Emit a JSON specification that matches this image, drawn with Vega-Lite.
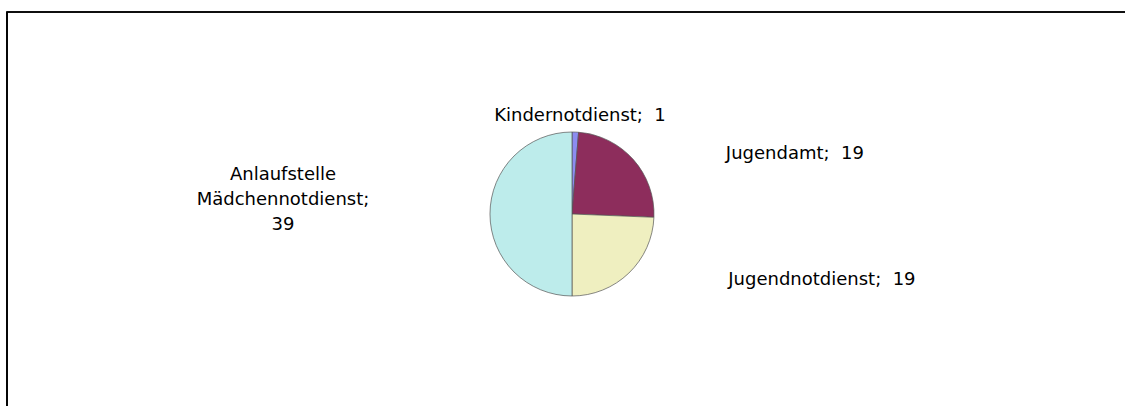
{
  "$schema": "https://vega.github.io/schema/vega-lite/v6.json",
  "autosize": {"type": "none"},
  "width": 1130,
  "height": 404,
  "padding": {"left": 7, "top": 12, "right": -12, "bottom": -10},
  "background": "#ffffff",
  "config": {
    "view": {"stroke": null},
    "font": "DejaVu Sans"
  },
  "data": {
    "values": [
      {"Stelle": "Kindernotdienst", "Anzahl": 1, "Reihenfolge": 1, "Label": "Kindernotdienst;\u00a0 1"},
      {"Stelle": "Jugendamt", "Anzahl": 19, "Reihenfolge": 2, "Label": "Jugendamt;\u00a0 19"},
      {"Stelle": "Jugendnotdienst", "Anzahl": 19, "Reihenfolge": 3, "Label": "Jugendnotdienst;\u00a0 19"},
      {"Stelle": "Anlaufstelle Mädchennotdienst", "Anzahl": 39, "Reihenfolge": 4, "Label": "Anlaufstelle|Mädchennotdienst;|39"}
    ]
  },
  "layer": [
    {
      "mark": {"type": "rect", "fill": null, "stroke": "#000000", "strokeWidth": 1.2},
      "encoding": {}
    },
    {
      "mark": {"type": "arc", "outerRadius": 82, "stroke": "#555555", "strokeWidth": 0.7},
      "encoding": {
        "theta": {"field": "Anzahl", "type": "quantitative", "stack": true},
        "order": {"field": "Reihenfolge", "type": "quantitative"},
        "color": {
          "field": "Stelle",
          "type": "nominal",
          "legend": null,
          "scale": {
            "domain": ["Kindernotdienst", "Jugendamt", "Jugendnotdienst", "Anlaufstelle Mädchennotdienst"],
            "range": ["#8c8cf0", "#8d2d5c", "#efefc0", "#bdeceb"]
          }
        }
      }
    },
    {
      "mark": {"type": "text", "radius": 100, "fontSize": 18, "align": "center", "baseline": "middle", "color": "#000000", "dx": 4, "dy": 2},
      "encoding": {
        "theta": {"field": "Anzahl", "type": "quantitative", "stack": true},
        "order": {"field": "Reihenfolge", "type": "quantitative"},
        "text": {"condition": {"test": "datum.Reihenfolge == 1", "field": "Label"}, "value": ""}
      }
    },
    {
      "mark": {"type": "text", "radius": 100, "fontSize": 18, "align": "left", "baseline": "middle", "color": "#000000", "dx": 79, "dy": 6},
      "encoding": {
        "theta": {"field": "Anzahl", "type": "quantitative", "stack": true},
        "order": {"field": "Reihenfolge", "type": "quantitative"},
        "text": {"condition": {"test": "datum.Reihenfolge == 2", "field": "Label"}, "value": ""}
      }
    },
    {
      "mark": {"type": "text", "radius": 100, "fontSize": 18, "align": "left", "baseline": "middle", "color": "#000000", "dx": 87, "dy": -6},
      "encoding": {
        "theta": {"field": "Anzahl", "type": "quantitative", "stack": true},
        "order": {"field": "Reihenfolge", "type": "quantitative"},
        "text": {"condition": {"test": "datum.Reihenfolge == 3", "field": "Label"}, "value": ""}
      }
    },
    {
      "mark": {"type": "text", "radius": 100, "fontSize": 18, "align": "center", "baseline": "middle", "color": "#000000", "dx": -189, "dy": -39, "lineBreak": "|", "lineHeight": 25},
      "encoding": {
        "theta": {"field": "Anzahl", "type": "quantitative", "stack": true},
        "order": {"field": "Reihenfolge", "type": "quantitative"},
        "text": {"condition": {"test": "datum.Reihenfolge == 4", "field": "Label"}, "value": ""}
      }
    }
  ]
}
